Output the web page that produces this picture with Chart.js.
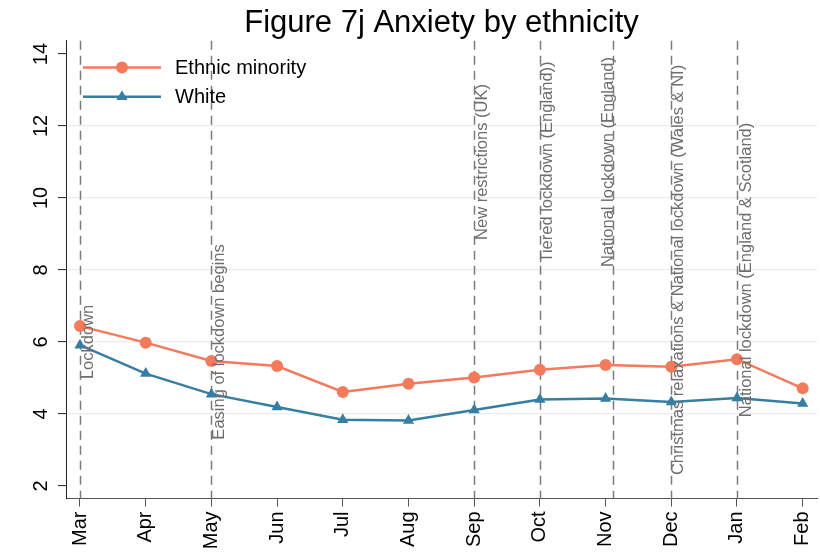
<!DOCTYPE html>
<html>
<head>
<meta charset="utf-8">
<script src="https://cdn.jsdelivr.net/npm/chart.js@4.4.1/dist/chart.umd.min.js"></script>
<style>
  html, body { margin: 0; padding: 0; background: #ffffff; }
  #wrap { width: 820px; height: 557px; position: relative; }
</style>
</head>
<body>
<div id="wrap"><canvas id="c" width="820" height="557"></canvas></div>
<script>
// ---- data ----
const months = ["Mar","Apr","May","Jun","Jul","Aug","Sep","Oct","Nov","Dec","Jan","Feb"];
const ethnicMinority = [6.44, 5.98, 5.47, 5.33, 4.61, 4.84, 5.01, 5.23, 5.36, 5.31, 5.52, 4.71];
const white = [5.91, 5.12, 4.55, 4.19, 3.84, 3.82, 4.11, 4.40, 4.43, 4.33, 4.44, 4.29];
const yTicks = [2, 4, 6, 8, 10, 12, 14];
const eventLabels = [
  "Lockdown",
  "Easing of lockdown begins",
  "New restrictions (UK)",
  "Tiered lockdown (England))",
  "National lockdown (England)",
  "Christmas relaxations & National lockdown (Wales & NI)",
  "National lockdown (England & Scotland)"
];
const eventMonths = [0, 2, 6, 7, 8.11, 9, 10];
const eventLabelMonths = [0, 2, 6, 7, 8, 9, 10];
const eventLabelY = [6, 6, 11, 11, 11, 8, 8];

const ORANGE = "#f47a5c";
const BLUE = "#377ea3";
const FONT = "'Liberation Sans', Arial, Helvetica, sans-serif";

const annotations = {
  id: "annotations",
  beforeDatasetsDraw(chart) {
    const {ctx, chartArea, scales: {x}} = chart;
    ctx.save();
    ctx.strokeStyle = "#7b7b7b";
    ctx.lineWidth = 1.5;
    ctx.setLineDash([9, 6]);
    eventMonths.forEach(m => {
      const px = Math.round(x.getPixelForValue(m)) + 0.5;
      ctx.beginPath();
      ctx.moveTo(px, chartArea.top);
      ctx.lineTo(px, chartArea.bottom);
      ctx.stroke();
    });
    ctx.restore();
  },
  afterDatasetsDraw(chart, args, opts) {
    const {ctx, scales: {x, y}} = chart;
    ctx.save();
    ctx.fillStyle = "#6e6e6e";
    ctx.font = "16.5px " + FONT;
    ctx.textAlign = "center";
    ctx.textBaseline = "middle";
    eventLabels.forEach((t, i) => {
      const px = x.getPixelForValue(eventLabelMonths[i]) + opts.dx[i];
      const py = y.getPixelForValue(eventLabelY[i]);
      ctx.save();
      ctx.translate(px, py);
      ctx.rotate(-Math.PI / 2);
      ctx.fillText(t, 0, 0);
      ctx.restore();
    });
    // legend
    const items = [
      {label: "Ethnic minority", color: ORANGE, style: "circle", r: 6},
      {label: "White", color: BLUE, style: "triangle", r: 6.5}
    ];
    items.forEach((it, i) => {
      const ly = opts.legendY[i];
      const cx = (opts.legendX0 + opts.legendX1) / 2;
      ctx.strokeStyle = it.color;
      ctx.lineWidth = 2.5;
      ctx.setLineDash([]);
      ctx.beginPath();
      ctx.moveTo(opts.legendX0, ly);
      ctx.lineTo(opts.legendX1, ly);
      ctx.stroke();
      ctx.fillStyle = it.color;
      ctx.beginPath();
      if (it.style === "circle") {
        ctx.arc(cx, ly, it.r, 0, Math.PI * 2);
      } else {
        ctx.moveTo(cx, ly - it.r);
        ctx.lineTo(cx + it.r * Math.sin(Math.PI * 2 / 3), ly + it.r / 2);
        ctx.lineTo(cx - it.r * Math.sin(Math.PI * 2 / 3), ly + it.r / 2);
        ctx.closePath();
      }
      ctx.fill();
      ctx.fillStyle = "#000";
      ctx.font = "20px " + FONT;
      ctx.textAlign = "left";
      ctx.textBaseline = "middle";
      ctx.fillText(it.label, opts.legendTextX, ly + 1);
    });
    ctx.restore();
  }
};

new Chart(document.getElementById("c"), {
  type: "line",
  data: {
    datasets: [
      {
        label: "Ethnic minority",
        data: ethnicMinority.map((v, i) => ({x: i, y: v})),
        borderColor: ORANGE,
        backgroundColor: ORANGE,
        borderWidth: 2.5,
        pointStyle: "circle",
        pointRadius: 6,
        pointBorderWidth: 0,
        tension: 0
      },
      {
        label: "White",
        data: white.map((v, i) => ({x: i, y: v})),
        borderColor: BLUE,
        backgroundColor: BLUE,
        borderWidth: 2.5,
        pointStyle: "triangle",
        pointRadius: 6.5,
        pointBorderWidth: 0,
        tension: 0
      }
    ]
  },
  options: {
    responsive: false,
    animation: false,
    events: [],
    layout: { autoPadding: false, padding: { left: 0, right: 3, top: 0, bottom: 0 } },
    scales: {
      x: {
        type: "linear",
        min: -0.213,
        max: 11.218,
        afterBuildTicks: axis => { axis.ticks = months.map((m, i) => ({value: i})); },
        afterFit: axis => { axis.height = 58.5; axis.paddingLeft = 0; axis.paddingRight = 0; },
        border: { display: true, color: "#555", width: 1 },
        grid: { drawOnChartArea: false, drawTicks: true, tickLength: 8, tickColor: "#555", tickWidth: 1 },
        ticks: {
          callback: v => months[v],
          minRotation: 90,
          maxRotation: 90,
          autoSkip: false,
          padding: 5,
          color: "#000",
          font: { family: FONT, size: 20 }
        }
      },
      y: {
        type: "linear",
        min: 1.65,
        max: 14.37,
        afterBuildTicks: axis => { axis.ticks = yTicks.map(v => ({value: v})); },
        afterFit: axis => { axis.width = 66; axis.paddingTop = 0; axis.paddingBottom = 0; },
        border: { display: true, color: "#222", width: 1 },
        grid: {
          drawOnChartArea: true,
          color: ctx => (ctx.tick && (ctx.tick.value === 2 || ctx.tick.value === 14)) ? "rgba(0,0,0,0)" : "#e6eef0",
          lineWidth: 1.2,
          drawTicks: true,
          tickLength: 8,
          tickColor: "#222",
          tickWidth: 1
        },
        ticks: {
          minRotation: 90,
          maxRotation: 90,
          crossAlign: "center",
          padding: 5,
          color: "#000",
          font: { family: FONT, size: 20 }
        }
      }
    },
    plugins: {
      legend: { display: false },
      tooltip: { enabled: false },
      title: {
        display: true,
        fullSize: false,
        text: "Figure 7j Anxiety by ethnicity",
        color: "#000",
        font: { family: FONT, size: 31, weight: "normal", lineHeight: 1 },
        padding: { top: 8, bottom: 1.7 }
      },
      annotations: {
        dx: [8, 8, 8, 8, 2.5, 7, 9.5],
        legendY: [67.5, 96.7],
        legendX0: 83,
        legendX1: 161,
        legendTextX: 175
      }
    }
  },
  plugins: [annotations]
});
</script>
</body>
</html>
